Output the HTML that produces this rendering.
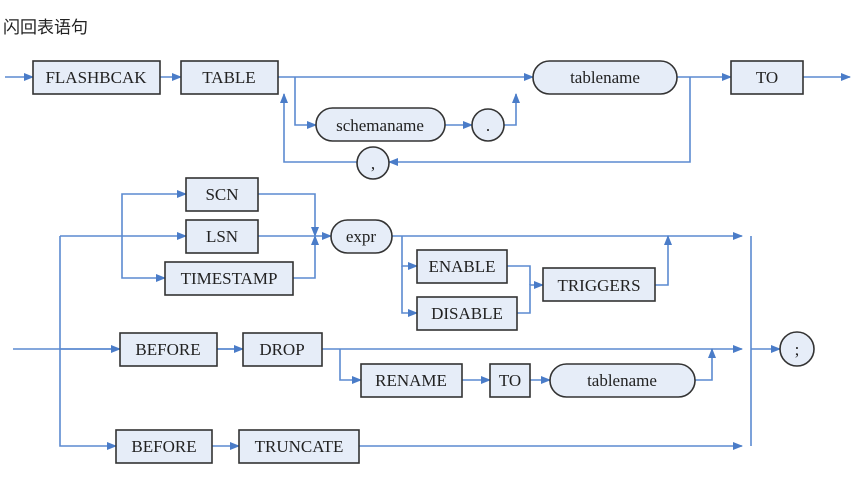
<!DOCTYPE html>
<html><head><meta charset="utf-8"><style>
html,body{margin:0;padding:0;background:#fff;width:860px;height:482px;overflow:hidden}
</style></head><body>
<svg width="860" height="482" viewBox="0 0 860 482" xmlns="http://www.w3.org/2000/svg">
<defs>
<marker id="a" markerWidth="10" markerHeight="8" refX="9" refY="4" orient="auto" markerUnits="userSpaceOnUse">
<path d="M0,0 L10,4 L0,8 z" fill="#4a7cc8"/></marker>
</defs>
<text x="3" y="33" font-family="'Liberation Sans','Noto Sans CJK SC',sans-serif" font-size="17" fill="#222">闪回表语句</text>
<g fill="none" stroke="#5b8ad0" stroke-width="1.6">
<!-- row1 -->
<path d="M5,77 H33" marker-end="url(#a)"/>
<path d="M160,77 H181" marker-end="url(#a)"/>
<path d="M278,77 H533" marker-end="url(#a)"/>
<path d="M295,77 V125 H316" marker-end="url(#a)"/>
<path d="M445,125 H472" marker-end="url(#a)"/>
<path d="M504,125 H516 V94" marker-end="url(#a)"/>
<path d="M677,77 H731" marker-end="url(#a)"/>
<path d="M803,77 H850" marker-end="url(#a)"/>
<path d="M690,77 V162 H389" marker-end="url(#a)"/>
<path d="M357,162 H284 V94" marker-end="url(#a)"/>
<!-- row2 -->
<path d="M13,349 H742" marker-end="url(#a)"/>
<path d="M60,236 V446 H116" marker-end="url(#a)"/>
<path d="M60,236 H186" marker-end="url(#a)"/>
<path d="M122,236 V194 H186" marker-end="url(#a)"/>
<path d="M122,236 V278 H165" marker-end="url(#a)"/>
<path d="M60,349 H120" marker-end="url(#a)"/>
<path d="M258,194 H315 V236" marker-end="url(#a)"/>
<path d="M293,278 H315 V236" marker-end="url(#a)"/>
<path d="M258,236 H331" marker-end="url(#a)"/>
<path d="M392,236 H742" marker-end="url(#a)"/>
<path d="M751,236 V446"/>
<path d="M402,236 V266 H417" marker-end="url(#a)"/>
<path d="M402,266 V313 H417" marker-end="url(#a)"/>
<path d="M507,266 H530 V285"/>
<path d="M517,313 H530 V285 H543" marker-end="url(#a)"/>
<path d="M655,285 H668 V236" marker-end="url(#a)"/>
<path d="M751,349 H780" marker-end="url(#a)"/>
<path d="M217,349 H243" marker-end="url(#a)"/>
<path d="M340,349 V380 H361" marker-end="url(#a)"/>
<path d="M462,380 H490" marker-end="url(#a)"/>
<path d="M530,380 H550" marker-end="url(#a)"/>
<path d="M695,380 H712 V349" marker-end="url(#a)"/>
<path d="M212,446 H239" marker-end="url(#a)"/>
<path d="M359,446 H742" marker-end="url(#a)"/>
</g>
<g fill="#e6edf8" stroke="#333" stroke-width="1.6">
<rect x="33" y="61" width="127" height="33"/>
<rect x="181" y="61" width="97" height="33"/>
<rect x="316" y="108" width="129" height="33" rx="16.5"/>
<circle cx="488" cy="125" r="16"/>
<rect x="533" y="61" width="144" height="33" rx="16.5"/>
<rect x="731" y="61" width="72" height="33"/>
<circle cx="373" cy="163" r="16"/>
<rect x="186" y="178" width="72" height="33"/>
<rect x="186" y="220" width="72" height="33"/>
<rect x="165" y="262" width="128" height="33"/>
<rect x="331" y="220" width="61" height="33" rx="16.5"/>
<rect x="417" y="250" width="90" height="33"/>
<rect x="417" y="297" width="100" height="33"/>
<rect x="543" y="268" width="112" height="33"/>
<rect x="120" y="333" width="97" height="33"/>
<rect x="243" y="333" width="79" height="33"/>
<rect x="361" y="364" width="101" height="33"/>
<rect x="490" y="364" width="40" height="33"/>
<rect x="550" y="364" width="145" height="33" rx="16.5"/>
<circle cx="797" cy="349" r="17"/>
<rect x="116" y="430" width="96" height="33"/>
<rect x="239" y="430" width="120" height="33"/>
</g>
<g font-family="'Liberation Serif',serif" font-size="17" fill="#222" text-anchor="middle">
<text x="96" y="83">FLASHBCAK</text>
<text x="229" y="83">TABLE</text>
<text x="380" y="131">schemaname</text>
<text x="488" y="131">.</text>
<text x="605" y="83">tablename</text>
<text x="767" y="83">TO</text>
<text x="373" y="169">,</text>
<text x="222" y="200">SCN</text>
<text x="222" y="242">LSN</text>
<text x="229" y="284">TIMESTAMP</text>
<text x="361" y="242">expr</text>
<text x="462" y="272">ENABLE</text>
<text x="467" y="319">DISABLE</text>
<text x="599" y="291">TRIGGERS</text>
<text x="168" y="355">BEFORE</text>
<text x="282" y="355">DROP</text>
<text x="411" y="386">RENAME</text>
<text x="510" y="386">TO</text>
<text x="622" y="386">tablename</text>
<text x="797" y="355">;</text>
<text x="164" y="452">BEFORE</text>
<text x="299" y="452">TRUNCATE</text>
</g>
</svg>
</body></html>
